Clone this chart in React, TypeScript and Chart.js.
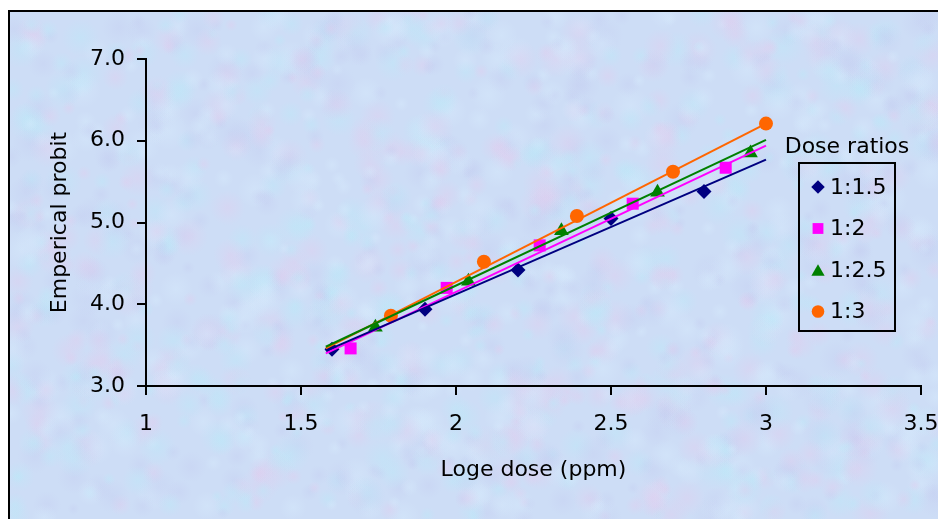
import React, { useEffect, useRef } from 'react';
import { Chart, registerables } from 'chart.js';
import { drawPoint } from 'chart.js/helpers';

Chart.register(...registerables);

// ---- data ----
const legendTitle = 'Dose ratios';
const seriesLabels = ['1:1.5', '1:2', '1:2.5', '1:3'];

const dose_1_1_5 = [1.6, 1.9, 2.2, 2.5, 2.8];
const probit_1_1_5 = [3.45, 3.94, 4.42, 5.05, 5.38];

const dose_1_2 = [1.66, 1.97, 2.27, 2.57, 2.87];
const probit_1_2 = [3.46, 4.2, 4.72, 5.23, 5.67];

const dose_1_2_5 = [1.74, 2.04, 2.34, 2.65, 2.95];
const probit_1_2_5 = [3.72, 4.28, 4.9, 5.37, 5.85];

const dose_1_3 = [1.79, 2.09, 2.39, 2.7, 3.0];
const probit_1_3 = [3.86, 4.52, 5.08, 5.62, 6.21];

// fitted trend lines (end points)
const trendDose = [1.58, 3.0];
const trend_1_1_5 = [3.43, 5.77];
const trend_1_2 = [3.4, 5.94];
const trend_1_2_5 = [3.48, 6.01];
const trend_1_3 = [3.46, 6.21];

const xMin = 1;
const xMax = 3.5;
const xStep = 0.5;
const yMin = 3;
const yMax = 7;
const yStep = 1;
const xTitle = 'Loge dose (ppm)';
const yTitle = 'Emperical probit';

// ---- styles ----
const colors = ['#000080', '#FF00FF', '#008000', '#FF6600'];
const shapes = ['rectRot', 'rect', 'triangle', 'circle'];
const radii = [7.5, 8.5, 8.5, 7];
const FONT = "'DejaVu Sans', 'Liberation Sans', Arial, sans-serif";
const FS = 22;
const BG = 'rgb(205,221,246)';

const pointsOf = (xs: number[], ys: number[]) => xs.map((x, i) => ({ x, y: ys[i] }));

const markerSets = [
  pointsOf(dose_1_1_5, probit_1_1_5),
  pointsOf(dose_1_2, probit_1_2),
  pointsOf(dose_1_2_5, probit_1_2_5),
  pointsOf(dose_1_3, probit_1_3),
];
const trendSets = [
  pointsOf(trendDose, trend_1_1_5),
  pointsOf(trendDose, trend_1_2),
  pointsOf(trendDose, trend_1_2_5),
  pointsOf(trendDose, trend_1_3),
];

// deterministic decorative hash for the mottled paper texture
const hash = (n: number) => {
  const s = Math.sin(n * 12.9898) * 43758.5453;
  return s - Math.floor(s);
};

const backgroundPlugin = {
  id: 'bgFrame',
  beforeDraw(chart: any) {
    const { ctx, width, height } = chart;
    ctx.save();
    ctx.fillStyle = '#ffffff';
    ctx.fillRect(0, 0, width, height);
    ctx.beginPath();
    ctx.rect(10, 12, width - 10, height - 12);
    ctx.clip();
    ctx.fillStyle = BG;
    ctx.fillRect(10, 12, width - 10, height - 12);
    const tints = ['rgba(226,204,238,0.4)', 'rgba(188,232,248,0.45)', 'rgba(196,204,240,0.35)', 'rgba(214,234,252,0.45)'];
    for (let i = 0; i < 1600; i++) {
      const x = 10 + hash(i + 1) * (width - 10);
      const y = 12 + hash(i + 3001) * (height - 12);
      const r = 6 + hash(i + 6001) * 14;
      const g = ctx.createRadialGradient(x, y, 0, x, y, r);
      const c = tints[i % tints.length];
      g.addColorStop(0, c);
      g.addColorStop(1, c.replace(/[\d.]+\)$/, '0)'));
      ctx.fillStyle = g;
      ctx.fillRect(x - r, y - r, 2 * r, 2 * r);
    }
    ctx.restore();
    ctx.save();
    ctx.strokeStyle = '#000000';
    ctx.lineWidth = 2;
    ctx.strokeRect(9, 11, width + 10, height + 10);
    ctx.restore();
  },
};

const legendPlugin = {
  id: 'boxLegend',
  afterDraw(chart: any) {
    const { ctx } = chart;
    ctx.save();
    ctx.fillStyle = '#000000';
    ctx.font = `${FS}px ${FONT}`;
    ctx.textAlign = 'center';
    ctx.textBaseline = 'alphabetic';
    ctx.fillText(legendTitle, 847, 153);
    ctx.strokeStyle = '#000000';
    ctx.lineWidth = 2;
    ctx.strokeRect(799, 163, 96, 168);
    seriesLabels.forEach((label, i) => {
      const y = 187 + i * 41.5;
      ctx.fillStyle = colors[i];
      drawPoint(ctx, { pointStyle: shapes[i], radius: radii[i] * 0.9, rotation: 0, borderWidth: 0 } as any, 818, shapes[i] === 'triangle' ? y + 2 : y);
      ctx.fillStyle = '#000000';
      ctx.textAlign = 'left';
      ctx.textBaseline = 'middle';
      ctx.fillText(label, 830, y + 1);
    });
    ctx.restore();
  },
};

export default function App() {
  const ref = useRef<HTMLCanvasElement | null>(null);
  useEffect(() => {
    document.body.style.margin = '0';
    const canvas = ref.current;
    if (!canvas) return;
    const datasets: any[] = [];
    trendSets.forEach((data, i) => {
      datasets.push({
        label: seriesLabels[i] + ' trend',
        data,
        showLine: true,
        borderColor: colors[i],
        borderWidth: 2,
        pointRadius: 0,
        fill: false,
        order: 0,
      });
    });
    markerSets.forEach((data, i) => {
      datasets.push({
        label: seriesLabels[i],
        data,
        showLine: false,
        pointStyle: shapes[i],
        pointRadius: radii[i],
        backgroundColor: colors[i],
        borderColor: colors[i],
        pointBorderWidth: 0,
        order: 1,
      });
    });
    const chart = new Chart(canvas, {
      type: 'scatter',
      data: { datasets },
      options: {
        responsive: false,
        animation: false,
        devicePixelRatio: 1,
        layout: { padding: { top: 59, right: 0, left: 0, bottom: 0 } },
        plugins: { legend: { display: false }, tooltip: { enabled: false } },
        scales: {
          x: {
            type: 'linear',
            min: xMin,
            max: xMax,
            afterFit(scale: any) {
              scale.height = 133;
              scale.paddingRight = 17;
              scale.paddingLeft = 0;
            },
            ticks: { stepSize: xStep, color: '#000', font: { family: FONT, size: FS }, padding: 16, maxRotation: 0, callback: (v: any) => String(Number(v)) },
            grid: { display: true, drawOnChartArea: false, drawTicks: true, tickLength: 9, color: '#000', lineWidth: 2 },
            border: { display: true, color: '#000', width: 2 },
            title: { display: true, text: xTitle, color: '#000', font: { family: FONT, size: FS }, padding: { top: 0, bottom: 36 } },
          },
          y: {
            type: 'linear',
            min: yMin,
            max: yMax,
            afterFit(scale: any) { scale.width = 146; },
            ticks: { stepSize: yStep, color: '#000', font: { family: FONT, size: FS }, padding: 12, callback: (v: any) => Number(v).toFixed(1) },
            grid: { display: true, drawOnChartArea: false, drawTicks: true, tickLength: 9, color: '#000', lineWidth: 2 },
            border: { display: true, color: '#000', width: 2 },
            title: { display: true, text: yTitle, color: '#000', font: { family: FONT, size: FS }, padding: { top: 47, bottom: 0 } },
          },
        },
      },
      plugins: [backgroundPlugin, legendPlugin],
    } as any);
    return () => chart.destroy();
  }, []);
  return (
    <div style={{ width: 938, height: 519 }}>
      <canvas ref={ref} width={938} height={519} style={{ display: 'block' }} />
    </div>
  );
}
